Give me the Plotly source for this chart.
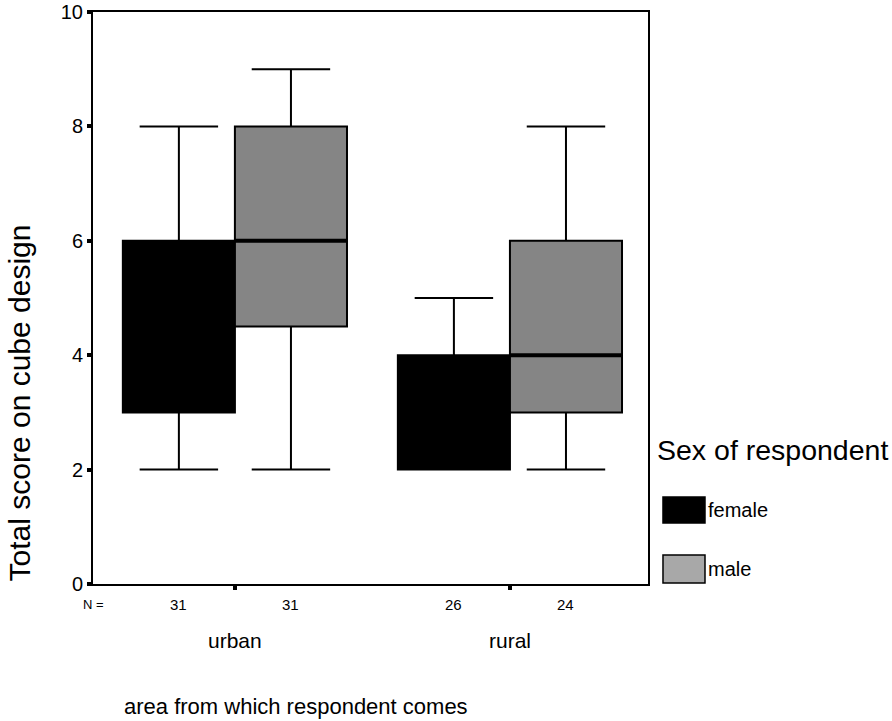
import plotly.graph_objects as go

categories = ["urban", "rural"]
series = ["female", "male"]
n_counts = {"female": [31, 26], "male": [31, 24]}
lower = {"female": [2, 2], "male": [2, 2]}
q1 = {"female": [3, 2], "male": [4.5, 3]}
median = {"female": [5, 3], "male": [6, 4]}
q3 = {"female": [6, 4], "male": [8, 6]}
upper = {"female": [8, 5], "male": [9, 8]}
fills = {"female": "#000000", "male": "#858585"}
y_ticks = [0, 2, 4, 6, 8, 10]

FONT = "Liberation Sans, Arial, sans-serif"
HALF = 0.2037  # half of one box width in category units

fig = go.Figure()
for s in series:
    fig.add_trace(go.Box(
        name=s,
        x=categories,
        q1=q1[s], median=median[s], q3=q3[s],
        lowerfence=lower[s], upperfence=upper[s],
        fillcolor=fills[s],
        line=dict(color="#000000", width=2),
        whiskerwidth=0.7,
        boxpoints=False,
        showlegend=False,
        hoverinfo="skip",
    ))

# thicker median lines (on top)
for s in series:
    off = -HALF if s == "female" else HALF
    for i, c in enumerate(categories):
        fig.add_shape(type="line", xref="x", yref="y",
                      x0=i + off - HALF, x1=i + off + HALF,
                      y0=median[s][i], y1=median[s][i],
                      line=dict(color="#000000", width=4))

# N = row
fig.add_annotation(xref="paper", yref="paper", x=0.0, y=-0.035, text="N =",
                   showarrow=False, xanchor="center", yanchor="middle",
                   font=dict(family=FONT, size=13, color="#000"))
for s in series:
    off = -HALF if s == "female" else HALF
    for i, c in enumerate(categories):
        fig.add_annotation(xref="x", yref="paper", x=i + off, y=-0.035,
                           text=str(n_counts[s][i]), showarrow=False,
                           xanchor="center", yanchor="middle",
                           font=dict(family=FONT, size=15, color="#000"))
for i, c in enumerate(categories):
    fig.add_annotation(xref="x", yref="paper", x=i, y=-0.098,
                       text=c, showarrow=False, xanchor="center", yanchor="middle",
                       font=dict(family=FONT, size=21, color="#000"))

# x axis title
fig.add_annotation(xref="paper", yref="paper", x=0.052, y=-0.215,
                   text="area from which respondent comes", showarrow=False,
                   xanchor="left", yanchor="middle",
                   font=dict(family=FONT, size=22, color="#000"))

# y axis title
fig.add_annotation(xref="paper", yref="paper", x=-0.133, y=0.316,
                   text="Total score on cube design", showarrow=False,
                   textangle=-90, xanchor="center", yanchor="middle",
                   font=dict(family=FONT, size=30, color="#000"))

# legend
fig.add_annotation(xref="paper", yref="paper", x=1.012, y=0.234,
                   text="Sex of respondent", showarrow=False,
                   xanchor="left", yanchor="middle",
                   font=dict(family=FONT, size=28.5, color="#000"))
leg = {"female": (0.1066, 0.152, 0.129), "male": (0.0018, 0.0507, 0.026)}
for s in series:
    y0, y1, yc = leg[s]
    fig.add_shape(type="rect", xref="paper", yref="paper",
                  x0=1.027, x1=1.1027, y0=y0, y1=y1,
                  fillcolor="#000000" if s == "female" else "#a8a8a8",
                  line=dict(color="#000000", width=1.5))
    fig.add_annotation(xref="paper", yref="paper", x=1.104, y=yc,
                       text=s, showarrow=False, xanchor="left", yanchor="middle",
                       font=dict(family=FONT, size=20, color="#000"))

fig.update_layout(
    width=892, height=721,
    margin=dict(l=93, r=244, t=12, b=137, autoexpand=False),
    paper_bgcolor="#ffffff", plot_bgcolor="#ffffff",
    boxmode="group", boxgap=0.185, boxgroupgap=0,
    font=dict(family=FONT, color="#000000"),
)
fig.update_xaxes(
    type="category", range=[-0.516, 1.502], automargin=False,
    showgrid=False, zeroline=False,
    showline=True, linecolor="#000", linewidth=2, mirror=True,
    ticks="outside", ticklen=4, tickwidth=4, tickcolor="#000",
    showticklabels=False,
)
fig.update_yaxes(
    range=[0, 10], tickvals=y_ticks, automargin=False,
    showgrid=False, zeroline=False,
    showline=True, linecolor="#000", linewidth=2, mirror=True,
    ticks="outside", ticklen=4, tickwidth=4, tickcolor="#000",
    tickfont=dict(family=FONT, size=20, color="#000"),
)

fig.write_html("out.html", config={"displayModeBar": False},
               post_script="document.body.style.margin='0';document.body.style.overflow='hidden';")
